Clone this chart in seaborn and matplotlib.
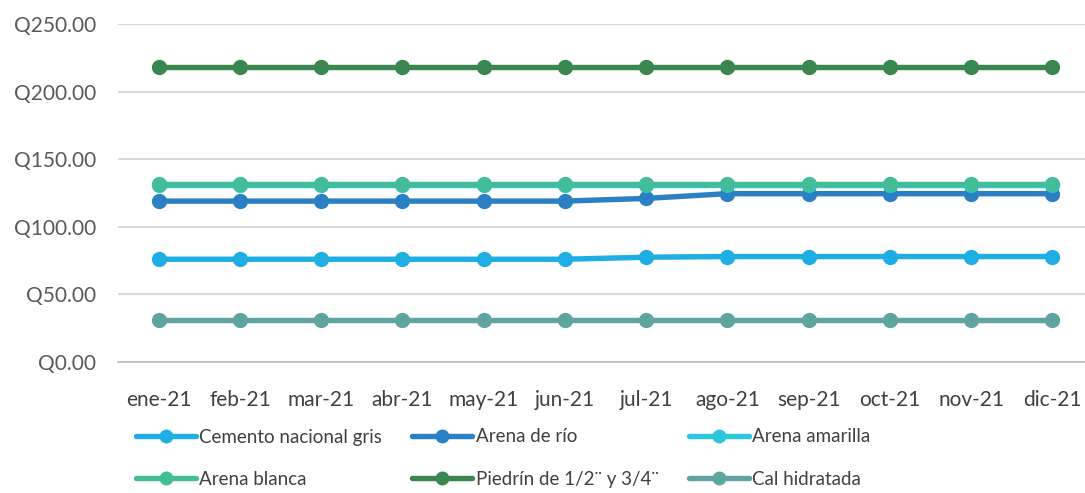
import matplotlib.pyplot as plt
import seaborn as sns
import pandas as pd
import numpy as np

meses = ["ene-21", "feb-21", "mar-21", "abr-21", "may-21", "jun-21",
         "jul-21", "ago-21", "sep-21", "oct-21", "nov-21", "dic-21"]
cemento = [76, 76, 76, 76, 76, 76, 77.5, 78, 78, 78, 78, 78]
arena_rio = [119, 119, 119, 119, 119, 119, 121, 124.5, 124.5, 124.5, 124.5, 124.5]
arena_amarilla = [131] * 12
arena_blanca = [132] * 12
piedrin = [218] * 12
cal = [31] * 12

materiales = ["Cemento nacional gris", "Arena de río", "Arena amarilla",
              "Arena blanca", "Piedrín de 1/2¨ y 3/4¨", "Cal hidratada"]
series = [cemento, arena_rio, arena_amarilla, arena_blanca, piedrin, cal]
colores = ["#1FAEE3", "#2A80C2", "#2AC8D8", "#43BC98", "#3A8650", "#60A4A0"]

df = pd.DataFrame({
    "mes": np.tile(np.arange(len(meses)), len(materiales)),
    "precio": np.concatenate(series),
    "material": np.repeat(materiales, len(meses)),
})

sns.set_style("white")
plt.rcParams["font.family"] = ["Lato", "DejaVu Sans"]

fig = plt.figure(figsize=(10.85, 4.93), dpi=100)
ax = fig.add_axes([118 / 1085, 1 - 362 / 493, (1093 - 118) / 1085, (362 - 24) / 493])

sns.lineplot(data=df, x="mes", y="precio", hue="material", hue_order=materiales,
             palette=colores, marker="o", markersize=11, markeredgewidth=0,
             linewidth=3.9, ax=ax, legend=False, zorder=3)

ax.set_xlim(-0.5, len(meses) - 0.5)
ax.set_ylim(0, 250)
ax.set_yticks(np.arange(0, 251, 50))
ax.set_yticklabels([f"Q{v:.2f}" for v in np.arange(0, 251, 50)])
ax.set_xticks(np.arange(len(meses)))
ax.set_xticklabels(meses)
ax.set_xticks(np.arange(-0.5, len(meses), 1), minor=True)
ax.tick_params(axis="x", which="major", length=0, pad=20, labelsize=15, colors="#404040")
ax.tick_params(axis="x", which="minor", length=6, width=1.2, color="#BFBFBF")
ax.tick_params(axis="y", length=0, pad=16, labelsize=15, colors="#595959")
ax.set_xlabel("")
ax.set_ylabel("")
ax.grid(axis="y", color="#D9D9D9", linewidth=1.5)
ax.set_axisbelow(True)
for s in ["top", "right", "left"]:
    ax.spines[s].set_visible(False)
ax.spines["bottom"].set_color("#BFBFBF")
ax.spines["bottom"].set_linewidth(1.2)

handles = [plt.Line2D([], [], color=c, marker="o", markersize=10, markeredgewidth=0,
                      linewidth=3.9) for c in colores]
orden = [0, 3, 1, 4, 2, 5]
leg = fig.legend([handles[i] for i in orden], [materiales[i] for i in orden],
                 ncol=3, loc="upper left", bbox_to_anchor=(128 / 1085, 1 - 421 / 493),
                 frameon=False, fontsize=13.5, handlelength=3.2, handletextpad=0.2,
                 columnspacing=1.6, labelspacing=1.35, borderaxespad=0)
for t in leg.get_texts():
    t.set_color("#404040")

fig.savefig("out.png", dpi=100)
